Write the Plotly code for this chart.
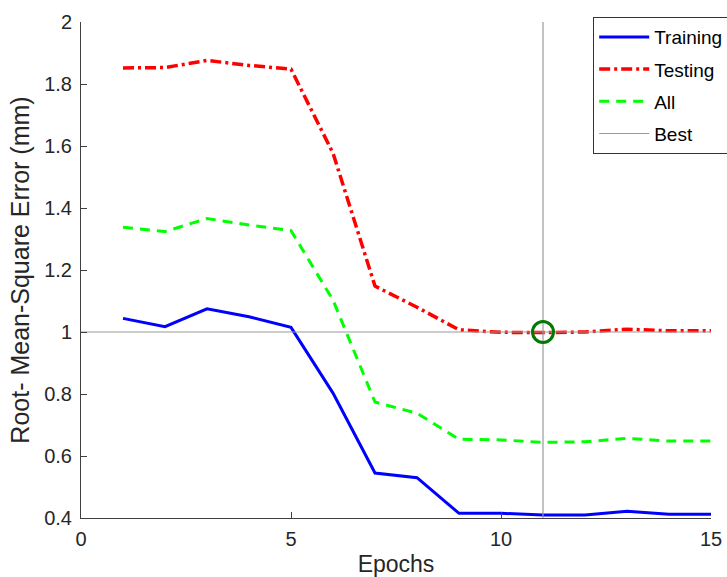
import plotly.graph_objects as go

epochs = list(range(1, 16))
training = [1.044, 1.017, 1.075, 1.049, 1.015, 0.803, 0.545, 0.530, 0.415, 0.415, 0.410, 0.410, 0.422, 0.412, 0.412]
testing = [1.852, 1.853, 1.876, 1.860, 1.848, 1.577, 1.148, 1.080, 1.007, 0.999, 0.998, 1.000, 1.009, 1.004, 1.004]
all_data = [1.338, 1.324, 1.366, 1.345, 1.327, 1.103, 0.774, 0.738, 0.654, 0.652, 0.644, 0.646, 0.657, 0.648, 0.648]
best_epoch = 11
best_value = 1.0

font_family = "Liberation Sans, Arial, sans-serif"
axis_color = "#404040"

fig = go.Figure()

fig.add_trace(go.Scatter(x=epochs, y=training, mode="lines", name="Training", legendgroup="a",
                         line=dict(color="#0000ff", width=3)))
fig.add_trace(go.Scatter(x=epochs, y=testing, mode="lines", name="Testing", legendgroup="b",
                         line=dict(color="#ff0000", width=3.5, dash="11px,4px,3px,4px")))
fig.add_trace(go.Scatter(x=epochs, y=all_data, mode="lines", name="All", legendgroup="c",
                         line=dict(color="#00ff00", width=3, dash="10px,7px")))
fig.add_trace(go.Scatter(x=[best_epoch, best_epoch], y=[0.4, 2.0], mode="lines", name="Best",
                         legendgroup="d", line=dict(color="#999999", width=1.2)))
fig.add_trace(go.Scatter(x=[0, 15], y=[best_value, best_value], mode="lines", showlegend=False,
                         line=dict(color="#999999", width=1.2)))
fig.add_trace(go.Scatter(x=[best_epoch], y=[best_value], mode="markers", showlegend=False,
                         marker=dict(symbol="circle-open", size=21, color="#007a00",
                                     line=dict(color="#007a00", width=3))))

fig.update_layout(
    width=727, height=577,
    margin=dict(l=81, r=16, t=22, b=59, autoexpand=False),
    paper_bgcolor="white", plot_bgcolor="white",
    font=dict(family=font_family, size=20, color="#262626"),
    showlegend=True,
    legend=dict(x=0.813, y=1.01, xanchor="left", yanchor="top",
                bgcolor="white", bordercolor="#333333", borderwidth=1,
                font=dict(size=19, color="#000000"), tracegroupgap=4.5,
                itemwidth=50),
    xaxis=dict(range=[0, 15], tickvals=[0, 5, 10, 15], ticks="inside", ticklen=6,
               tickcolor=axis_color, showline=True, linecolor=axis_color, linewidth=1,
               showgrid=False, zeroline=False, mirror=False, ticklabelstandoff=3,
               automargin=True,
               title=dict(text="Epochs", font=dict(size=23), standoff=10)),
    yaxis=dict(range=[0.4, 2.0], tickvals=[0.4, 0.6, 0.8, 1.0, 1.2, 1.4, 1.6, 1.8, 2.0],
               ticktext=["0.4", "0.6", "0.8", "1", "1.2", "1.4", "1.6", "1.8", "2"],
               ticks="inside", ticklen=6, tickcolor=axis_color, ticklabelstandoff=4,
               showline=True, linecolor=axis_color, linewidth=1,
               showgrid=False, zeroline=False,
               title=dict(text="Root- Mean-Square Error (mm)", font=dict(size=25), standoff=7)),
)

fig.write_html("out.html")
